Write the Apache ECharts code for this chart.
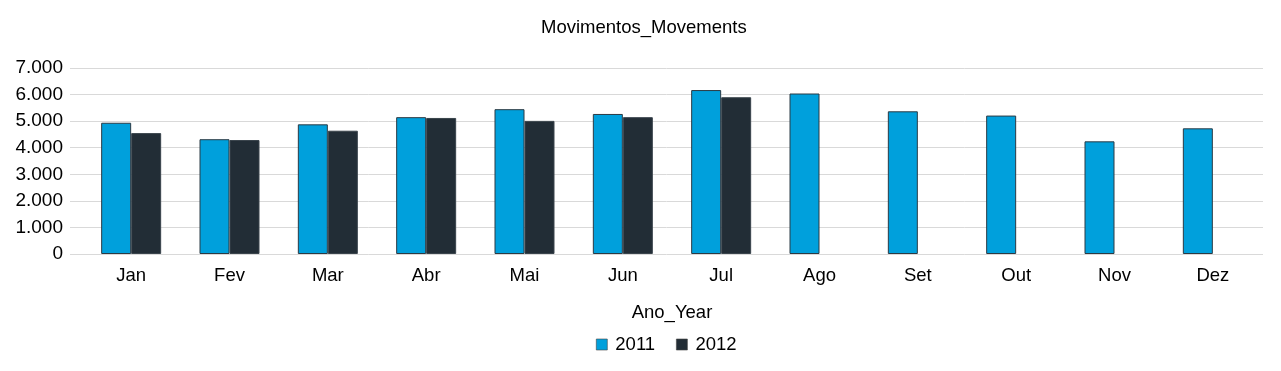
<!DOCTYPE html>
<html><head><meta charset="utf-8">
<script src="https://cdn.jsdelivr.net/npm/echarts@6/dist/echarts.min.js"></script>
<style>html,body{margin:0;padding:0;background:#fff}#c{width:1281px;height:371px}</style>
</head><body><div id="c"></div>
<script>
const categories = ['Jan','Fev','Mar','Abr','Mai','Jun','Jul','Ago','Set','Out','Nov','Dez'];
const values2011 = [4940, 4320, 4880, 5150, 5450, 5270, 6170, 6040, 5370, 5210, 4240, 4730];
const values2012 = [4550, 4290, 4640, 5120, 5010, 5150, 5900, null, null, null, null, null];
const seriesNames = ['2011', '2012'];

const font = 'Liberation Sans, Arial, sans-serif';
const chart = echarts.init(document.getElementById('c'));
chart.setOption({
  animation: false,
  title: { text: 'Movimentos_Movements', left: 536, top: 13,
    textStyle: { fontFamily: font, fontSize: 18.5, fontWeight: 'normal', color: '#000' } },
  legend: { left: 591, top: 330, itemWidth: 11, itemHeight: 11, itemGap: 21, icon: 'rect',
    itemStyle: { borderWidth: 0.6, borderColor: '#444' },
    textStyle: { fontFamily: font, fontSize: 18.5, color: '#000', padding: [0, 0, 0, 3] } },
  grid: [
    { left: 70, right: 18, top: 68, bottom: 117 },
    { left: 82, right: 19, top: 68, bottom: 117 }
  ],
  xAxis: [
    { type: 'value', gridIndex: 0, show: false },
    { type: 'category', gridIndex: 1, data: categories, name: 'Ano_Year', nameLocation: 'middle', nameGap: 49,
      nameTextStyle: { fontFamily: font, fontSize: 18.5, color: '#000' },
      axisLine: { show: false }, axisTick: { show: false },
      axisLabel: { fontFamily: font, fontSize: 18.5, color: '#000', margin: 12 } }
  ],
  yAxis: [
    { type: 'value', gridIndex: 0, min: 0, max: 7000, interval: 1000,
      axisLine: { show: false }, axisTick: { show: false },
      axisLabel: { fontFamily: font, fontSize: 19, color: '#000', margin: 7,
        formatter: v => v.toLocaleString('de-DE') },
      splitLine: { lineStyle: { color: '#d9d9d9', width: 1 } } },
    { type: 'value', gridIndex: 1, min: 0, max: 7000, interval: 1000, show: false,
      splitLine: { show: false } }
  ],
  series: [
    { name: seriesNames[0], type: 'bar', xAxisIndex: 1, yAxisIndex: 1, data: values2011, barWidth: 30, barGap: '0%',
      itemStyle: { color: '#00A0DC', borderColor: '#2b3a44', borderWidth: 1 } },
    { name: seriesNames[1], type: 'bar', xAxisIndex: 1, yAxisIndex: 1, data: values2012, barWidth: 30,
      itemStyle: { color: '#222D36', borderColor: '#3a444c', borderWidth: 1 } }
  ]
});
</script></body></html>
